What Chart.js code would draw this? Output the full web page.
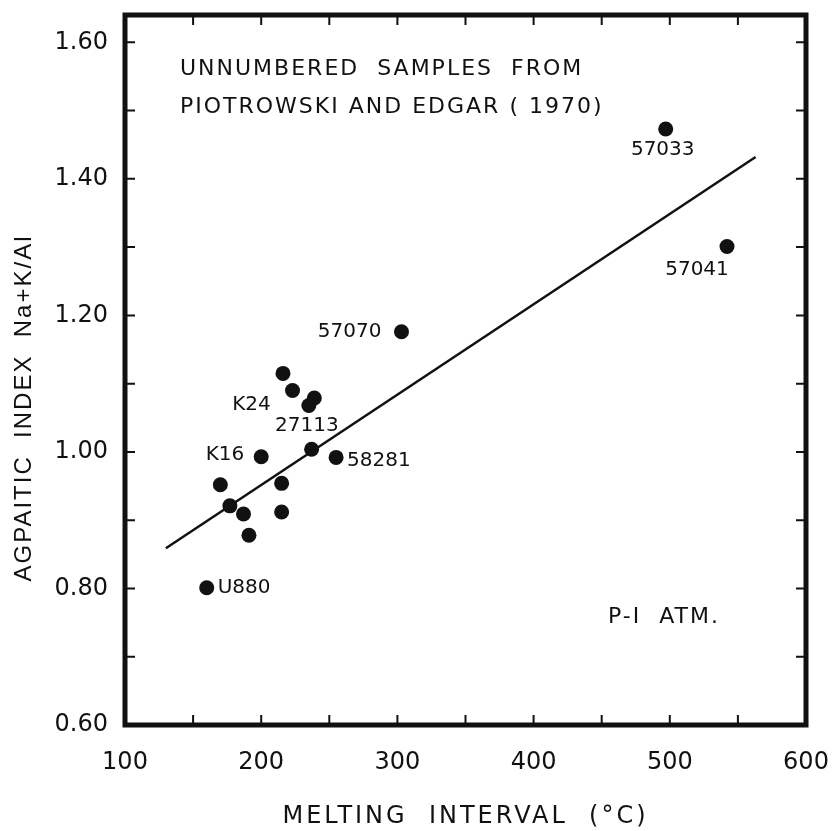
<!DOCTYPE html>
<html lang="en">
<head>
<meta charset="UTF-8">
<title>Agpaitic index vs melting interval</title>
<script src="https://cdn.jsdelivr.net/npm/chart.js"></script>
<style>
  body { margin: 0; background: #fff; }
</style>
</head>
<body>
<canvas id="chart" width="835" height="831"></canvas>
<script>
// samples (blank name = unlabelled point)
const sampleNames = ['57033', '57041', '57070', '', 'K24', '', '27113', '', '58281', 'K16', '', '', '', '', '', '', 'U880'];
const meltingInterval = [497, 542, 303, 216, 223, 239, 235, 237, 255, 200, 170, 177, 187, 191, 215, 215, 160];
const agpaiticIndex = [1.473, 1.301, 1.176, 1.115, 1.090, 1.079, 1.068, 1.004, 0.992, 0.993, 0.952, 0.921, 0.909, 0.878, 0.954, 0.912, 0.801];

// ends of the fitted line
const fitX = [130, 563];
const fitY = [0.859, 1.432];

const xTicks = [100, 150, 200, 250, 300, 350, 400, 450, 500, 550, 600];
const yTicks = [0.6, 0.7, 0.8, 0.9, 1.0, 1.1, 1.2, 1.3, 1.4, 1.5, 1.6];

// where each name sits next to its dot (pixels)
const labelPlace = {
  '57033': { dx: -3, dy: 21, align: 'center' },
  '57041': { dx: -30, dy: 23, align: 'center' },
  '57070': { dx: -20, dy: 0, align: 'right' },
  'K24': { dx: -41, dy: 14, align: 'center' },
  '27113': { dx: -2, dy: 20, align: 'center' },
  '58281': { dx: 11, dy: 3, align: 'left' },
  'K16': { dx: -17, dy: -2, align: 'right' },
  'U880': { dx: 11, dy: 0, align: 'left' }
};

const ink = '#111';
const numFont = 'DejaVu Sans';

// keep chart.js from growing the margins for end labels
function noPad(s) {
  s.paddingTop = 0; s.paddingBottom = 0;
  s.paddingLeft = 0; s.paddingRight = 0;
}

const framePlugin = {
  id: 'frame',
  afterDraw(chart) {
    const ctx = chart.ctx;
    const a = chart.chartArea;
    const xs = chart.scales.x, ys = chart.scales.y;
    ctx.save();
    ctx.strokeStyle = ink;

    // inward tick marks on all four sides
    ctx.lineWidth = 2;
    ctx.beginPath();
    xTicks.slice(1, -1).forEach(v => {
      const px = xs.getPixelForValue(v);
      ctx.moveTo(px, a.bottom); ctx.lineTo(px, a.bottom - 10);
      ctx.moveTo(px, a.top); ctx.lineTo(px, a.top + 10);
    });
    yTicks.slice(1).forEach(v => {
      const py = ys.getPixelForValue(v);
      ctx.moveTo(a.left, py); ctx.lineTo(a.left + 10, py);
      ctx.moveTo(a.right, py); ctx.lineTo(a.right - 10, py);
    });
    ctx.stroke();

    // heavy frame
    ctx.lineWidth = 5;
    ctx.strokeRect(a.left, a.top, a.right - a.left, a.bottom - a.top);

    // sample names
    ctx.fillStyle = ink;
    ctx.font = '20px "' + numFont + '"';
    ctx.textBaseline = 'middle';
    const pts = chart.getDatasetMeta(0).data;
    sampleNames.forEach((name, i) => {
      if (!name) return;
      const p = labelPlace[name];
      ctx.textAlign = p.align;
      ctx.fillText(name, pts[i].x + p.dx, pts[i].y + p.dy);
    });

    // notes inside the plot
    ctx.textAlign = 'left';
    ctx.font = '22px "' + numFont + '"';
    ctx.letterSpacing = '2px';
    ctx.fillText('UNNUMBERED  SAMPLES  FROM', a.left + 55, a.top + 54);
    ctx.fillText('PIOTROWSKI AND EDGAR ( 1970)', a.left + 55, a.top + 92);
    ctx.fillText('P-I  ATM.', a.left + 483, a.top + 602);

    // axis titles
    ctx.textAlign = 'center';
    ctx.font = '24px "' + numFont + '"';
    ctx.letterSpacing = '3px';
    ctx.fillText('MELTING  INTERVAL  (°C)', (a.left + a.right) / 2, 817);

    ctx.translate(24, 408);
    ctx.rotate(-Math.PI / 2);
    ctx.font = '24px "Liberation Sans"';
    ctx.letterSpacing = '2px';
    ctx.fillText('AGPAITIC  INDEX  Na+K/Al', 0, 0);
    ctx.restore();
  }
};

new Chart(document.getElementById('chart'), {
  type: 'scatter',
  data: {
    datasets: [{
      data: meltingInterval.map((x, i) => ({ x: x, y: agpaiticIndex[i] })),
      pointRadius: 7.5,
      pointBackgroundColor: ink,
      pointBorderWidth: 0
    }, {
      data: fitX.map((x, i) => ({ x: x, y: fitY[i] })),
      showLine: true,
      borderColor: ink,
      borderWidth: 2.5,
      pointRadius: 0
    }]
  },
  options: {
    responsive: false,
    animation: false,
    layout: { padding: { top: 15, right: 29, left: 0, bottom: 0 } },
    plugins: { legend: { display: false }, tooltip: { enabled: false } },
    scales: {
      x: {
        type: 'linear',
        min: 100,
        max: 600,
        afterBuildTicks: s => { s.ticks = xTicks.map(v => ({ value: v })); },
        afterFit: s => { s.height = 106; noPad(s); },
        grid: { display: false, drawTicks: false },
        border: { display: false },
        ticks: {
          autoSkip: false,
          maxRotation: 0,
          padding: 23,
          color: ink,
          font: { family: numFont, size: 24 },
          callback: v => (v % 100 === 0 ? String(v) : '')
        }
      },
      y: {
        min: 0.6,
        max: 1.64,
        afterBuildTicks: s => { s.ticks = yTicks.map(v => ({ value: v })); },
        afterFit: s => { s.width = 125; noPad(s); },
        grid: { display: false, drawTicks: false },
        border: { display: false },
        ticks: {
          autoSkip: false,
          padding: 17,
          color: ink,
          font: { family: numFont, size: 24 },
          callback: v => (Math.round(v * 10) % 2 === 0 ? v.toFixed(2) : '')
        }
      }
    }
  },
  plugins: [framePlugin]
});
</script>
</body>
</html>
